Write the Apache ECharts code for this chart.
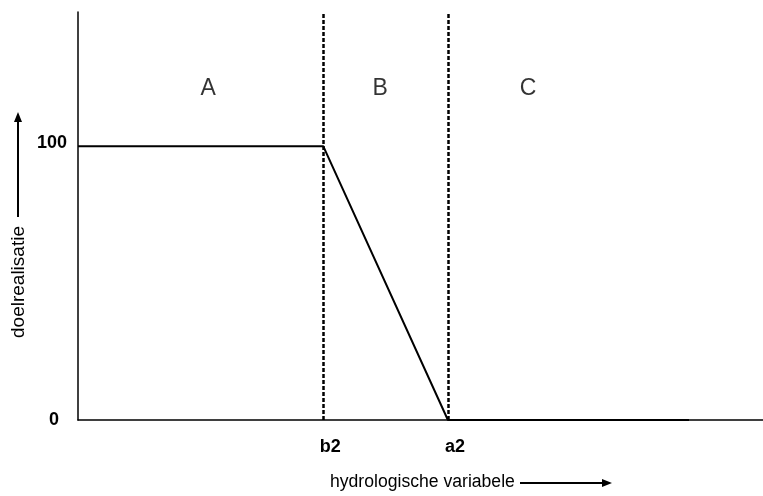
<!DOCTYPE html>
<html>
<head>
<meta charset="utf-8">
<script src="https://cdn.jsdelivr.net/npm/echarts@6/dist/echarts.min.js"></script>
<style>
  html, body { margin: 0; padding: 0; background: #fff; }
  #chart-container { width: 763px; height: 496px; }
</style>
</head>
<body>
<div id="chart-container"></div>
<script>
// curve of doelrealisatie against the hydrological variable (x on a 0..100 scale)
const curveX = [0, 35.8, 54.0, 89.2];
const curveY = [100, 100, 0, 0];

// thresholds
const thresholds = [
  { name: "b2", value: 35.8 },
  { name: "a2", value: 54.0 }
];

// zone labels
const zoneNames = ["A", "B", "C"];
const zoneX = [19.0, 44.1, 65.7];
const zoneY = 121;

const yTicks = [0, 100];

const dom = document.getElementById("chart-container");
const myChart = echarts.init(dom, null, { renderer: "canvas" });

const font = "'Liberation Sans', Arial, sans-serif";

const option = {
  animation: false,
  grid: { left: 78, right: 0, top: 12, bottom: 76 },
  xAxis: {
    type: "value",
    min: 0,
    max: 100,
    splitLine: { show: false },
    axisTick: { show: false },
    axisLine: { lineStyle: { color: "#000", width: 1.5 } },
    axisLabel: {
      customValues: thresholds.map((t) => t.value),
      formatter: (v) => {
        const t = thresholds.find((el) => Math.abs(el.value - v) < 0.01);
        return t ? t.name : "";
      },
      color: "#000",
      fontFamily: font,
      fontWeight: "bold",
      fontSize: 18,
      margin: 18,
      padding: [0, 0, 0, 14]
    }
  },
  yAxis: {
    type: "value",
    min: 0,
    max: 149,
    splitLine: { show: false },
    axisTick: { show: false },
    axisLine: { lineStyle: { color: "#000", width: 1.5 } },
    axisLabel: {
      customValues: yTicks,
      formatter: (v) => (v === 0 ? "{z|0}" : String(v)),
      rich: {
        z: {
          color: "#000",
          fontFamily: font,
          fontWeight: "bold",
          fontSize: 18,
          padding: [8, 8, 0, 0]
        }
      },
      color: "#000",
      fontFamily: font,
      fontWeight: "bold",
      fontSize: 18,
      margin: 11,
      padding: [0, 0, 7, 0]
    }
  },
  series: [
    {
      type: "line",
      data: curveX.map((x, i) => [x, curveY[i]]),
      symbol: "none",
      lineStyle: { color: "#000", width: 2 },
      markLine: {
        silent: true,
        symbol: "none",
        label: { show: false },
        lineStyle: { color: "#000", width: 2.5, type: [4, 2] },
        data: thresholds.map((t) => ({ xAxis: t.value }))
      }
    },
    {
      type: "scatter",
      symbolSize: 0,
      data: zoneNames.map((n, i) => ({ name: n, value: [zoneX[i], zoneY] })),
      label: {
        show: true,
        position: "inside",
        formatter: (p) => p.name,
        color: "#000",
        fontFamily: font,
        fontSize: 23
      }
    }
  ],
  graphic: [
    {
      type: "text",
      left: 330,
      top: 473,
      style: {
        text: "hydrologische variabele",
        font: "17.6px " + font,
        fill: "#000"
      }
    },
    {
      type: "line",
      shape: { x1: 520, y1: 483, x2: 604, y2: 483 },
      style: { stroke: "#000", lineWidth: 2 }
    },
    {
      type: "polygon",
      shape: { points: [[612, 483], [602, 479], [602, 487]] },
      style: { fill: "#000" }
    },
    {
      type: "text",
      x: 9,
      y: 338,
      rotation: Math.PI / 2,
      style: {
        text: "doelrealisatie",
        font: "19px " + font,
        fill: "#000"
      }
    },
    {
      type: "line",
      shape: { x1: 18, y1: 217, x2: 18, y2: 120 },
      style: { stroke: "#000", lineWidth: 2 }
    },
    {
      type: "polygon",
      shape: { points: [[18, 112], [14, 122], [22, 122]] },
      style: { fill: "#000" }
    }
  ]
};

myChart.setOption(option);
window.addEventListener("resize", myChart.resize);
</script>
</body>
</html>
